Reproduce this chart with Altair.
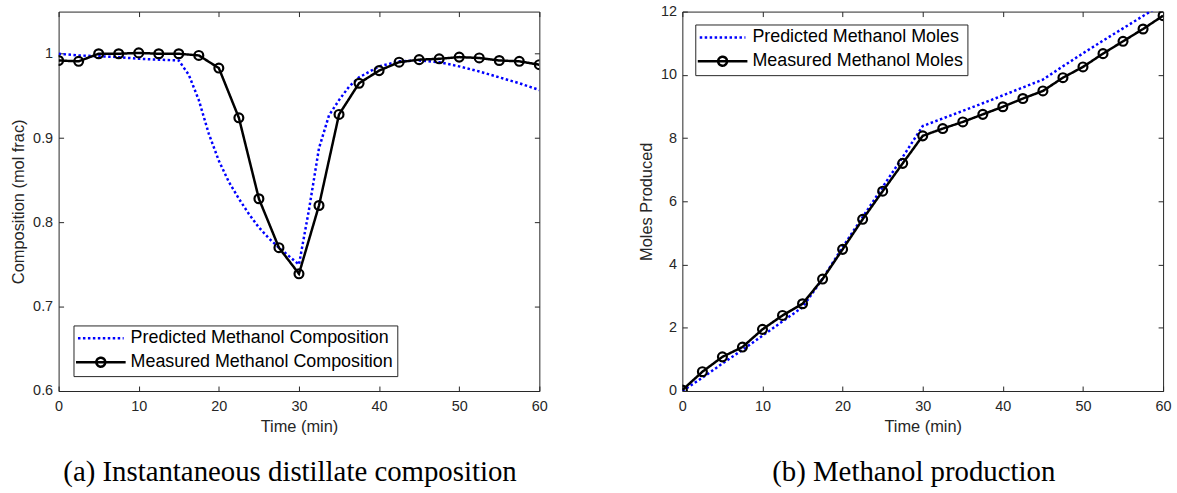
import altair as alt
import pandas as pd

# ---------------- data ----------------
t_meas = [0, 2.5, 5, 7.5, 10, 12.5, 15, 17.5, 20, 22.5, 25, 27.5, 30,
          32.5, 35, 37.5, 40, 42.5, 45, 47.5, 50, 52.5, 55, 57.5, 60]

comp_meas = [0.992, 0.991, 1.000, 1.000, 1.001, 1.000, 1.000, 0.998, 0.983,
             0.924, 0.828, 0.770, 0.739, 0.820, 0.928, 0.965, 0.980, 0.990,
             0.993, 0.994, 0.996, 0.995, 0.992, 0.991, 0.987]

t_pred_comp = [0, 2.5, 5, 7.5, 10, 12.5, 15, 16.25, 17.5, 18.75, 20, 21.25,
               22.5, 23.75, 25, 26.25, 27.5, 28.75, 30, 31.25, 32.5, 33.75,
               35, 36.25, 37.5, 40, 42.5, 45, 47.5, 50, 52.5, 55, 57.5, 60]
comp_pred = [1.000, 0.998, 0.997, 0.996, 0.994, 0.993, 0.992, 0.975, 0.945,
             0.905, 0.873, 0.848, 0.828, 0.810, 0.794, 0.781, 0.770, 0.760,
             0.750, 0.815, 0.888, 0.927, 0.945, 0.961, 0.972, 0.985, 0.991,
             0.992, 0.990, 0.985, 0.979, 0.972, 0.965, 0.957]

moles_meas = [0.03, 0.61, 1.08, 1.39, 1.95, 2.39, 2.76, 3.54, 4.48, 5.43,
              6.32, 7.20, 8.07, 8.30, 8.51, 8.75, 8.99, 9.25, 9.49, 9.91,
              10.25, 10.67, 11.06, 11.45, 11.87]

t_pred_moles = [0, 2.5, 5, 7.5, 10, 12.5, 15, 17.5, 20, 22.5, 25, 27.5, 30,
                32.5, 35, 37.5, 40, 42.5, 45, 47.5, 50, 52.5, 55, 57.5, 60]
moles_pred = [0.0, 0.42, 0.87, 1.30, 1.75, 2.20, 2.65, 3.55, 4.55, 5.50,
              6.45, 7.40, 8.38, 8.62, 8.86, 9.10, 9.35, 9.60, 9.85, 10.27,
              10.68, 11.08, 11.47, 11.86, 12.25]

x_ticks = [0, 10, 20, 30, 40, 50, 60]
comp_ticks = [0.6, 0.7, 0.8, 0.9, 1.0]
moles_ticks = [0, 2, 4, 6, 8, 10, 12]

PRED_A = "Predicted Methanol Composition"
MEAS_A = "Measured Methanol Composition"
PRED_B = "Predicted Methanol Moles"
MEAS_B = "Measured Methanol Moles"

CAP_A = "(a) Instantaneous distillate composition"
CAP_B = "(b) Methanol production"

# ---------------- style ----------------
W, H = 484, 382
FONT = "Liberation Sans"
SERIF = "Liberation Serif"
TXT = "#262626"
BLUE = "#0000ff"
PRED_PATH = "M-23,0H23"
MEAS_PATH = "M-25,0H25M4.5,0A4.5,4.5,0,1,1,-4.5,0A4.5,4.5,0,1,1,4.5,0"


def panel(t_pred, v_pred, v_meas, pred_name, meas_name, ydomain, yticks,
          yformat, ytitle, lorient, loffset, caption):
    lines = pd.DataFrame(
        {"t": list(t_pred) + list(t_meas),
         "v": list(v_pred) + list(v_meas),
         "series": [pred_name] * len(t_pred) + [meas_name] * len(t_meas)})
    pts = pd.DataFrame({"t": t_meas, "v": v_meas})

    xs = alt.Scale(domain=[0, 60], nice=False, zero=False)
    ys = alt.Scale(domain=ydomain, nice=False, zero=False)

    legend = alt.Legend(
        title=None, orient=lorient, offset=loffset,
        fillColor="white", strokeColor=TXT, padding=4, rowPadding=5,
        labelFont=FONT, labelFontSize=18, labelColor="black", labelLimit=500,
        symbolSize=4, symbolStrokeWidth=2.5, symbolOffset=14.5, labelOffset=21,
        symbolFillColor="transparent",
        symbolType=alt.ExprRef(
            f"datum.value === '{meas_name}' ? '{MEAS_PATH}' : '{PRED_PATH}'"),
    )

    main_x = alt.Axis(values=x_ticks, title="Time (min)", titleFont=FONT,
                      titleFontSize=16.5, titleFontWeight="normal",
                      titleColor=TXT, titlePadding=5, labelFont=FONT,
                      labelFontSize=14.5, labelColor=TXT, labelPadding=9,
                      ticks=False, tickSize=0, domain=False, grid=False,
                      labelOverlap=False, labelFlush=False)
    main_y = alt.Axis(values=yticks, format=yformat, title=ytitle,
                      titleFont=FONT, titleFontSize=16.5,
                      titleFontWeight="normal", titleColor=TXT,
                      titlePadding=6, labelFont=FONT, labelFontSize=14.5,
                      labelColor=TXT, labelPadding=6, ticks=False, tickSize=0,
                      domain=False, grid=False, labelOverlap=False,
                      labelFlush=False)

    def tick_axis(orient, offset, vals):
        return alt.Axis(orient=orient, offset=offset, values=vals,
                        labels=False, domain=False, ticks=True, tickSize=5,
                        tickColor=TXT, tickWidth=1, title=None, grid=False,
                        minExtent=0)

    line_layer = alt.Chart(lines).mark_line(strokeWidth=2.5, clip=True).encode(
        x=alt.X("t:Q", scale=xs, axis=main_x),
        y=alt.Y("v:Q", scale=ys, axis=main_y),
        color=alt.Color("series:N",
                        scale=alt.Scale(domain=[pred_name, meas_name],
                                        range=[BLUE, "black"]),
                        legend=legend),
        strokeDash=alt.StrokeDash("series:N",
                                  scale=alt.Scale(domain=[pred_name, meas_name],
                                                  range=[[2.5, 2.5], [1, 0]]),
                                  legend=legend),
        order=alt.Order("series:N", sort="descending"),
    )

    point_layer = alt.Chart(pts).mark_point(
        shape="circle", filled=False, color="black", strokeWidth=2.2,
        size=80, opacity=1, clip=True).encode(
        x=alt.X("t:Q", scale=xs, axis=tick_axis("top", -H, x_ticks)),
        y=alt.Y("v:Q", scale=ys, axis=tick_axis("right", -W, yticks)),
    )

    frame_layer = alt.Chart(pts).mark_point(opacity=0).encode(
        x=alt.X("t:Q", scale=xs, axis=tick_axis("bottom", -H, x_ticks)),
        y=alt.Y("v:Q", scale=ys, axis=tick_axis("left", -W, yticks)),
    )

    return alt.layer(line_layer, point_layer, frame_layer).resolve_axis(
        x="independent", y="independent"
    ).properties(
        width=W, height=H,
        title=alt.TitleParams(text=caption, orient="bottom", anchor="middle",
                              frame="group", font=SERIF, fontSize=29,
                              fontWeight="normal", color="black", offset=24,
                              dx=-9),
    )


left = panel(t_pred_comp, comp_pred, comp_meas, PRED_A, MEAS_A,
             [0.6, 1.05], comp_ticks, ".1~f", "Composition (mol frac)",
             "bottom-left", 15, CAP_A)
right = panel(t_pred_moles, moles_pred, moles_meas, PRED_B, MEAS_B,
              [0, 12], moles_ticks, "d", "Moles Produced",
              "top-left", 13, CAP_B)

chart = alt.hconcat(left, right, spacing=90).resolve_scale(
    color="independent", strokeDash="independent", x="independent",
    y="independent"
).resolve_legend(color="independent", strokeDash="independent").properties(
    padding={"left": 10, "top": 1, "right": 5, "bottom": 0},
    background="white",
).configure_view(stroke=TXT, strokeWidth=1)

chart.save("out.html", embed_options={"renderer": "svg", "actions": False})
